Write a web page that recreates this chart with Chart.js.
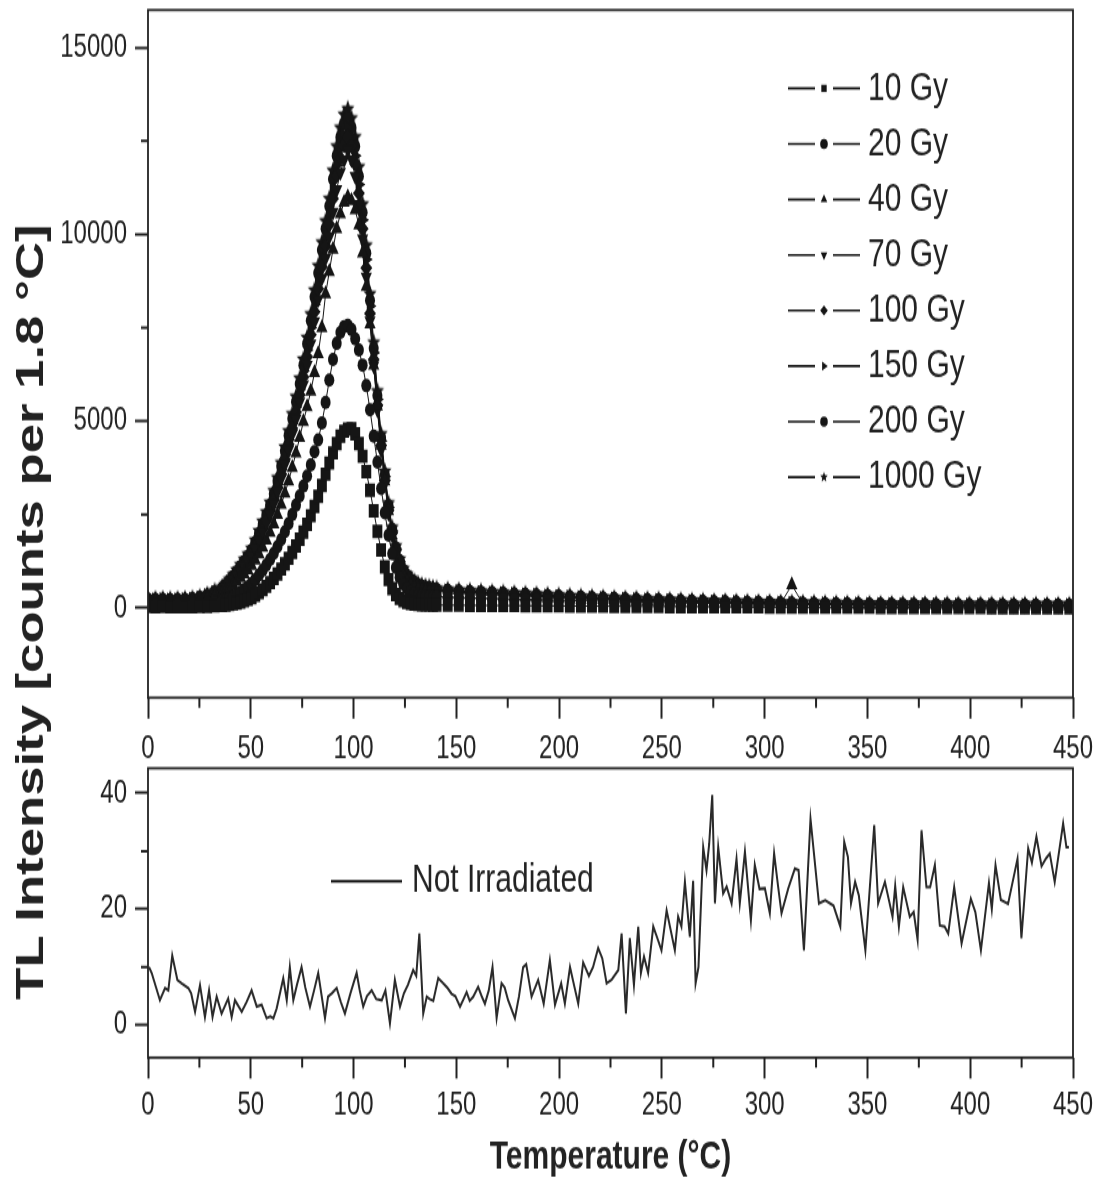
<!DOCTYPE html>
<html>
<head>
<meta charset="utf-8">
<script src="https://cdn.jsdelivr.net/npm/chart.js"></script>
<style>
html, body { margin: 0; padding: 0; background: #fff; }
#page { position: relative; width: 1101px; height: 1178px; overflow: hidden; }
/* canvases are drawn 872px high in total and shown stretched to 1178px, like the scanned original */
#top { position: absolute; left: 0; top: 0; width: 1101px; height: 776.78px; }
#bottom { position: absolute; left: 0; top: 749.76px; width: 1101px; height: 428.24px; }
#ytitle {
  position: absolute; left: 30px; top: 612px;
  transform: translate(-50%, -50%) scaleY(1.35092) rotate(-90deg);
  white-space: nowrap; color: #222;
  font: bold 39px 'Liberation Sans', Arial, sans-serif;
}
</style>
</head>
<body>
<div id="page">
  <canvas id="top" width="1101" height="575" style="width:1101px;height:776.78px"></canvas>
  <canvas id="bottom" width="1101" height="317" style="width:1101px;height:428.24px"></canvas>
  <div id="ytitle">TL Intensity [counts per 1.8 °C]</div>
</div>
<script>
// temperature grid shared by the irradiated curves (°C)
const temps = [0,3.6,7.2,10.8,14.4,18,21.6,25.2,28.8,32.4,
  36,37.8,39.6,41.4,43.2,45,46.8,48.6,50.4,52.2,54,55.8,57.6,59.4,61.2,63,64.8,66.6,68.4,70.2,
  72,73.8,75.6,77.4,79.2,81,82.8,84.6,86.4,88.2,90,91.8,93.6,95.4,97.2,99,100.8,102.6,104.4,106.2,
  108,109.8,111.6,113.4,115.2,117,118.8,120.6,122.4,124.2,126,127.8,129.6,131.4,133.2,135,136.8,138.6,140.4,
  145.8,151.2,156.6,162,167.4,172.8,178.2,183.6,189,194.4,199.8,205.2,210.6,216,221.4,226.8,232.2,237.6,243,248.4,
  253.8,259.2,264.6,270,275.4,280.8,286.2,291.6,297,302.4,307.8,313.2,318.6,324,329.4,334.8,340.2,345.6,351,356.4,
  361.8,367.2,372.6,378,383.4,388.8,394.2,399.6,405,410.4,415.8,421.2,426.6,432,437.4,442.8,448.2];

const dose10 = [40,35,40,30,35,30,35,40,45,55,
  70,80,95,110,130,160,190,230,280,340,410,490,580,680,790,910,1040,1180,1330,1490,
  1660,1840,2030,2240,2470,2720,2990,3280,3580,3880,4150,4400,4600,4730,4790,4800,4660,4400,4060,3650,
  3150,2600,2050,1550,1100,760,520,360,260,190,150,120,105,95,90,85,82,80,78,
  76,73,72,69,68,65,64,61,60,57,56,53,52,49,48,45,44,41,40,37,
  36,34,34,32,32,30,30,28,28,26,26,24,24,22,22,20,20,18,18,16,
  16,14,14,12,12,10,10,9,9,8,8,7,7,6,6,5,5];
const dose20 = [120,110,115,105,110,110,115,125,145,170,
  200,230,270,310,360,420,490,570,660,760,880,1010,1150,1300,1460,1640,1830,2040,2260,2500,
  2750,3000,3260,3530,3830,4180,4500,4950,5500,6100,6650,7080,7370,7530,7560,7450,7200,6900,6500,5950,
  5300,4600,3900,3200,2550,1950,1450,1080,820,640,520,440,390,360,340,325,315,305,300,
  290,282,274,266,258,250,242,234,226,218,210,202,194,186,179,172,165,158,152,146,
  140,134,129,124,119,114,110,106,102,98,94,91,88,85,82,79,77,75,73,71,
  69,67,65,63,61,60,59,58,57,56,55,54,53,52,51,50,50];
const dose40 = [180,170,175,165,170,175,185,210,250,310,
  380,450,530,620,710,810,910,1020,1140,1280,1440,1620,1810,2020,2250,2500,2770,3070,3400,3760,
  4150,4560,4990,5380,5800,6300,6800,7500,8400,9000,9600,10150,10550,10850,11000,10900,10650,10250,9500,8600,
  7600,6500,5400,4350,3400,2600,1950,1450,1100,860,700,600,530,490,460,440,425,415,405,
  390,375,362,350,338,326,314,302,290,278,266,254,244,232,224,212,204,195,187,179,
  171,163,156,151,144,139,132,128,124,120,116,620,108,104,100,96,94,91,89,87,
  85,82,80,78,76,74,73,72,70,69,68,67,66,65,64,63,62];
const dose70 = [210,200,205,195,200,205,220,250,300,380,
  460,540,640,750,870,990,1120,1250,1390,1590,1810,2040,2270,2510,2790,3110,3460,3840,4230,4650,
  5060,5510,5970,6500,7070,7660,8260,8830,9360,9930,10590,11200,11660,11990,12250,12000,11550,10800,9880,8860,
  7680,6480,5300,4240,3320,2540,1950,1500,1180,950,800,700,620,570,540,515,495,480,465,
  440,422,407,393,379,365,351,337,323,309,295,281,270,257,247,234,224,215,206,197,
  188,179,171,166,157,152,144,140,135,130,125,121,116,112,108,103,101,98,95,93,
  91,88,86,84,82,80,79,77,76,74,73,72,71,70,69,68,67];
const dose100 = [220,210,215,205,210,215,230,265,320,400,
  480,560,670,780,900,1030,1160,1300,1450,1650,1880,2110,2350,2600,2890,3220,3590,3980,4380,4810,
  5240,5700,6180,6720,7310,7920,8540,9130,9680,10270,10950,11580,12040,12380,12600,12350,11880,11100,10150,9100,
  7880,6650,5430,4350,3410,2610,2000,1540,1210,980,830,720,640,590,555,530,510,495,480,
  455,436,421,406,392,377,363,348,334,320,305,291,279,266,256,242,232,223,214,204,
  195,186,177,172,163,158,150,145,140,135,130,126,121,116,112,107,105,102,99,97,
  95,92,89,87,85,83,82,80,79,77,76,75,74,73,72,71,70];
const dose150 = [230,220,225,215,220,225,240,275,335,415,
  500,590,700,810,935,1065,1200,1340,1490,1700,1930,2170,2420,2680,2970,3310,3690,4090,4500,4940,
  5380,5850,6340,6900,7500,8120,8750,9350,9900,10500,11200,11850,12300,12650,12850,12600,12100,11330,10380,9330,
  8080,6830,5580,4470,3510,2690,2060,1580,1240,1000,850,740,660,600,565,540,520,500,485,
  465,447,431,417,401,387,372,358,342,329,313,299,286,273,262,249,238,229,219,210,
  200,192,182,177,167,163,153,149,143,139,133,130,124,120,115,111,108,106,102,101,
  98,96,92,91,88,87,85,84,82,81,79,79,77,77,75,75,73];
const dose200 = [240,230,235,225,230,235,250,285,345,430,
  520,610,720,840,970,1100,1240,1380,1540,1750,1990,2240,2490,2750,3050,3400,3790,4200,4620,5070,
  5520,6000,6500,7070,7690,8320,8960,9580,10150,10750,11480,12100,12600,12950,13100,12850,12350,11550,10580,9500,
  8230,6950,5680,4550,3570,2740,2100,1610,1270,1020,870,760,680,620,585,555,535,515,500,
  475,457,440,426,410,396,380,366,350,336,320,307,292,279,268,255,244,235,224,215,
  205,196,186,181,171,167,157,153,147,143,137,133,128,124,118,115,111,109,105,104,
  101,99,95,94,91,90,88,87,85,84,82,82,80,80,78,78,76];
const dose1000 = [250,240,245,235,240,245,260,295,360,450,
  550,640,760,880,1010,1150,1290,1430,1590,1810,2060,2310,2560,2820,3130,3480,3880,4300,4730,5190,
  5650,6140,6650,7230,7860,8500,9150,9780,10350,10950,11700,12350,12850,13200,13350,13100,12600,11800,10800,9700,
  8400,7100,5800,4650,3650,2800,2150,1650,1300,1050,900,790,710,650,610,580,560,540,520,
  490,472,455,441,424,411,394,381,364,351,334,322,304,291,279,266,254,246,234,226,
  214,206,194,191,179,176,164,161,154,151,144,141,134,131,124,121,117,116,111,110,
  107,106,101,100,97,97,94,93,91,90,88,88,86,86,84,84,82];
const doseLabels = ['10 Gy', '20 Gy', '40 Gy', '70 Gy', '100 Gy', '150 Gy', '200 Gy', '1000 Gy'];

// not irradiated sample (lower panel)
const niTemps = [0.5,1.8,5.8,8.3,9.9,11.8,14.3,16.4,19.6,21,
  22.9,25.3,27.7,29.7,31.4,33.4,35.8,39,40.7,42.3,
  45.6,48,50.4,52.9,55.3,57.7,59.5,61,62.6,65.8,
  67.5,69,70.7,72.5,74.7,76.5,78.8,80.8,82.8,84.5,
  86.1,87.6,89.5,91.8,93.8,95.8,98.5,101.5,103,104.7,
  106.5,108.8,111,113.7,115.5,117.7,120.1,122.6,124.5,126.5,
  129,130.5,132,133.9,135.6,137,138.8,141.2,143.6,145.5,
  147.7,149.5,151.8,153.5,155,156.5,158.2,160.6,162.3,163.9,
  165.8,167.6,169.6,172,173.5,175.2,178.5,180.5,182.5,184,
  186.6,189.8,192.5,195.5,198,201,202.8,205.3,207.5,209.3,
  211.7,214.5,216.5,219,221,223.1,225.5,228.8,230.4,232.5,
  234.4,236.4,238.5,239.8,241.3,243.3,245.8,247.8,249.8,252.3,
  254.5,256.3,257.9,259.5,261.2,263.6,265.2,266.4,267.8,270.1,
  271.7,273,274.5,275.8,277.4,279.8,281.5,283.9,286.3,287.9,
  290.4,293.3,295.2,297.5,300.1,302.5,304.6,306.5,308.2,311.5,
  314.7,316.5,319.1,322.3,326.4,329.5,333.5,336.8,338.7,340.5,
  342,344,345.8,349,353.3,355.2,358.5,360.5,362.2,363.5,
  365.3,367.4,370.6,372.5,374.4,376.3,378.7,380.5,382.8,385.2,
  387.5,389.3,392.2,395.8,400.3,402.5,405.2,409.1,410.5,412.3,
  414.9,418.4,423,424.9,428.2,430,432.2,434.7,436.8,438.7,
  441.1,445.2,446.8,448];
const niValues = [10,9,4.3,6.4,6,12,7.8,7.2,6.4,5.5,
  2.3,6.9,1.4,6,1.4,4.9,2,4.6,1.4,4.3,
  2.3,4,6,3.2,3.5,1.2,1.5,1.2,2.9,8.1,
  4.3,10,4.3,7,10,6.5,3.2,6,9,5,
  1.2,4.9,5.5,6.4,4,2,5.5,9,6,3.2,
  5,6,4.5,4.3,6,0.3,7.8,3.2,5.5,7,
  9.5,8.5,15.8,2,4.9,4.5,4.2,8.1,7.2,6.5,
  5.4,5,3.2,4.5,5.7,4.2,4.9,6.6,5,3.7,
  6,10,1.2,7.2,6.5,4.3,1.2,5,10,10.5,
  4.9,7.8,3.7,11.2,3.5,7.2,3.7,10,6.5,3.7,
  10.8,8.5,10,13.3,11.5,7.2,7.8,9.5,15.8,2,
  15,6.9,17,9,11.8,9,17,15,12.9,19.8,
  16,12.9,18.7,17,24.7,15.2,24.9,7.2,10,30.7,
  26.7,31.2,39.7,21,30.7,22.7,23.9,21,28.7,21,
  29.9,18.1,27.6,23.5,23.6,19.3,29.6,24,19.3,23.6,
  27,26.7,12.9,35.6,21,21.5,20.6,17,31.6,29,
  21,24.7,22.4,12.9,34.5,21,24.7,21.5,18.7,24,
  17,23.8,18.7,19.5,14.7,33.6,23.8,23.8,27.6,17.2,
  17,15.8,23.8,14.1,21.8,19.5,12.9,24.5,20,27.6,
  21.6,20.9,28.7,15,30.5,28,32.5,27.4,28.7,29.6,
  24.7,34.8,30.7,30.7];

// tick labels
const xTicks = [0, 50, 100, 150, 200, 250, 300, 350, 400, 450];
const topYTicks = [0, 5000, 10000, 15000];
const bottomYTicks = [0, 20, 40];

const INK = '#151515';
const TEXT = '#222';
const FONT = "'Liberation Sans', Arial, sans-serif";
Chart.defaults.font.family = FONT;
Chart.defaults.color = TEXT;

// filled five point star, used as a marker image
function starImage(r) {
  const c = document.createElement('canvas');
  const s = Math.ceil(r * 2 + 2);
  c.width = s; c.height = s;
  const g = c.getContext('2d');
  g.fillStyle = INK;
  g.beginPath();
  for (let k = 0; k < 10; k++) {
    const rad = k % 2 ? r * 0.45 : r;
    const ang = -Math.PI / 2 + k * Math.PI / 5;
    g.lineTo(s / 2 + rad * Math.cos(ang), s / 2 + rad * Math.sin(ang));
  }
  g.closePath();
  g.fill();
  return c;
}

const marks = [
  { style: 'rect', rot: 0, r: 7 },
  { style: 'circle', rot: 0, r: 5 },
  { style: 'triangle', rot: 0, r: 6.5 },
  { style: 'triangle', rot: 180, r: 6.5 },
  { style: 'rectRot', rot: 0, r: 6 },
  { style: 'triangle', rot: 90, r: 6.5 },
  { style: 'circle', rot: 0, r: 5 },
  { style: starImage(7), rot: 0, r: 7 }
];
const legendStyles = marks.map((m, i) => i === 7 ? starImage(4) : m.style);
const doses = [dose10, dose20, dose40, dose70, dose100, dose150, dose200, dose1000];

const pairs = (xs, ys) => ys.map((y, i) => ({ x: xs[i], y: y }));

// box round the plot area and the short minor ticks
const frame = {
  id: 'frame',
  afterDraw(chart, args, o) {
    const { ctx, chartArea: a, scales } = chart;
    ctx.save();
    ctx.strokeStyle = o.color;
    ctx.lineWidth = o.width;
    ctx.strokeRect(a.left, a.top, a.right - a.left, a.bottom - a.top);
    ctx.lineWidth = o.tickWidth;
    ctx.beginPath();
    const x = scales.x;
    for (let v = x.min; v <= x.max + 1e-6; v += o.xMinor) {
      if (Math.abs(v % o.xMajor) < 1e-6) continue;
      const px = x.getPixelForValue(v);
      ctx.moveTo(px, a.bottom);
      ctx.lineTo(px, a.bottom + o.xMinorLen);
    }
    const y = scales.y;
    for (let v = Math.ceil(y.min / o.yMinor) * o.yMinor; v <= y.max; v += o.yMinor) {
      if (Math.abs(v % o.yMajor) < 1e-6) continue;
      const py = y.getPixelForValue(v);
      ctx.moveTo(a.left, py);
      ctx.lineTo(a.left - o.yMinorLen, py);
    }
    ctx.stroke();
    ctx.restore();
  }
};

// legend drawn at a fixed place inside the plot
const markLegend = {
  id: 'markLegend',
  afterDraw(chart, args, o) {
    const ctx = chart.ctx;
    ctx.save();
    chart.data.datasets.forEach((ds, i) => {
      const y = o.y + i * o.dy;
      ctx.strokeStyle = INK;
      ctx.lineWidth = o.lineWidth;
      ctx.beginPath();
      if (o.gap) {
        ctx.moveTo(o.x0, y); ctx.lineTo(o.xm - o.gap, y);
        ctx.moveTo(o.xm + o.gap, y); ctx.lineTo(o.x1, y);
      } else {
        ctx.moveTo(o.x0, y); ctx.lineTo(o.x1, y);
      }
      ctx.stroke();
      if (o.styles) {
        ctx.fillStyle = INK;
        Chart.helpers.drawPoint(ctx, {
          pointStyle: o.styles[i], rotation: ds.pointRotation || 0,
          radius: o.radius, borderWidth: 0
        }, o.xm, y);
      }
      ctx.fillStyle = TEXT;
      ctx.font = o.font;
      ctx.textBaseline = 'middle';
      ctx.textAlign = 'left';
      ctx.fillText(ds.label, o.xt, y);
    });
    ctx.restore();
  }
};

function xAxis(height, pad, title) {
  return {
    type: 'linear', min: 0, max: 450,
    afterBuildTicks: s => { s.ticks = xTicks.map(v => ({ value: v })); },
    afterFit: s => { s.height = height; s.paddingLeft = 0; s.paddingRight = 0; },
    border: { display: false },
    grid: { drawOnChartArea: false, drawTicks: true, tickLength: 15.5, tickWidth: 2, tickColor: TEXT },
    ticks: { padding: pad, font: { size: 24 }, color: TEXT, maxRotation: 0, autoSkip: false, callback: v => String(v) },
    title: title ? { display: true, text: title, color: TEXT, font: { size: 30, weight: 'bold', lineHeight: 1 }, padding: 0 } : { display: false }
  };
}
function yAxis(min, max, list) {
  return {
    min: min, max: max,
    afterBuildTicks: s => { s.ticks = list.map(v => ({ value: v })); },
    afterFit: s => { s.width = 148; s.paddingTop = 0; s.paddingBottom = 0; },
    border: { display: false },
    grid: { drawOnChartArea: false, drawTicks: true, tickLength: 13, tickWidth: 2, tickColor: TEXT },
    ticks: { padding: 8, font: { size: 24 }, color: TEXT, autoSkip: false, callback: v => String(v) }
  };
}

new Chart(document.getElementById('top'), {
  type: 'scatter',
  data: {
    datasets: doses.map((d, i) => ({
      label: doseLabels[i],
      data: pairs(temps, d),
      showLine: true,
      borderColor: INK,
      borderWidth: 1,
      backgroundColor: INK,
      pointStyle: marks[i].style,
      pointRotation: marks[i].rot,
      pointRadius: marks[i].r,
      pointBorderWidth: 0
    }))
  },
  options: {
    responsive: false,
    animation: false,
    events: [],
    layout: { padding: { top: 7.4, right: 28, bottom: 0, left: 0 } },
    scales: { x: xAxis(58.7, 8.2), y: yAxis(-2400, 16000, topYTicks) },
    plugins: {
      legend: { display: false },
      tooltip: { enabled: false },
      frame: { color: TEXT, width: 1.8, tickWidth: 2, xMajor: 50, xMinor: 25, xMinorLen: 7.4, yMajor: 5000, yMinor: 2500, yMinorLen: 7 },
      markLegend: { x0: 788, x1: 860, xm: 824, gap: 9, xt: 868, y: 65.4, dy: 41.1, lineWidth: 1.6, radius: 3.8, styles: legendStyles, font: '30px ' + FONT }
    }
  },
  plugins: [frame, markLegend]
});

new Chart(document.getElementById('bottom'), {
  type: 'scatter',
  data: {
    datasets: [{
      label: 'Not Irradiated',
      data: pairs(niTemps, niValues),
      showLine: true,
      borderColor: '#2a2a2a',
      borderWidth: 2,
      pointRadius: 0
    }]
  },
  options: {
    responsive: false,
    animation: false,
    events: [],
    layout: { padding: { top: 13.5, right: 28, bottom: 0, left: 0 } },
    scales: { x: xAxis(89.2, 5.6, 'Temperature (°C)'), y: yAxis(-5.6, 44.3, bottomYTicks) },
    plugins: {
      legend: { display: false },
      tooltip: { enabled: false },
      frame: { color: TEXT, width: 1.8, tickWidth: 2, xMajor: 50, xMinor: 25, xMinorLen: 7.4, yMajor: 20, yMinor: 10, yMinorLen: 7 },
      markLegend: { x0: 331, x1: 402, xm: 366, gap: 0, xt: 412, y: 97.2, dy: 0, lineWidth: 2, font: '30px ' + FONT }
    }
  },
  plugins: [frame, markLegend]
});
</script>
</body>
</html>
